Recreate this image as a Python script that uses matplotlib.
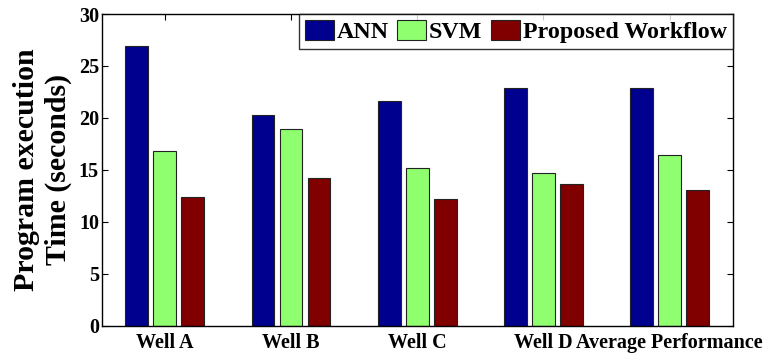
import matplotlib
matplotlib.use("Agg")
import matplotlib.pyplot as plt
import numpy as np

categories = ["Well A", "Well B", "Well C", "Well D", "Average Performance"]
series_names = ["ANN", "SVM", "Proposed Workflow"]
ann = [26.9, 20.3, 21.6, 22.9, 22.9]
svm = [16.8, 18.9, 15.2, 14.7, 16.4]
proposed = [12.4, 14.2, 12.2, 13.6, 13.1]
yticks = [0, 5, 10, 15, 20, 25, 30]

colors = ["#00008F", "#8FFF70", "#800000"]

plt.rcParams["font.family"] = ["Liberation Serif", "DejaVu Serif"]
plt.rcParams["font.weight"] = "bold"

fig = plt.figure(figsize=(7.73, 3.53), dpi=100)
ax = fig.add_axes([0.1316, 0.0773, 0.9479 - 0.1316, 0.9603 - 0.0773])

x = np.arange(1, len(categories) + 1)
width = 0.18
offsets = [-0.222, 0.0, 0.222]
for vals, name, col, off in zip([ann, svm, proposed], series_names, colors, offsets):
    ax.bar(x + off, vals, width, color=col, edgecolor="#222222", linewidth=0.8,
           label=name, zorder=2)

ax.set_xlim(0.5, 5.5)
ax.set_ylim(0, 30)
ax.set_xticks(x)
ax.set_xticklabels(categories, fontsize=14.5, fontweight="bold")
ax.set_yticks(yticks)
ax.set_yticklabels([str(t) for t in yticks], fontsize=14.5, fontweight="bold")
ax.tick_params(direction="in", length=4, width=0.8, top=True, right=True,
               pad=2, colors="black")
ax.tick_params(axis="x", pad=5)

for s in ax.spines.values():
    s.set_linewidth(1.0)
    s.set_color("black")

ax.set_ylabel("Program execution\nTime (seconds)", fontsize=21.5,
              fontweight="bold", labelpad=5, linespacing=1.2)

leg = ax.legend(loc="upper right", ncol=3, frameon=True,
                fancybox=False, edgecolor="black", borderaxespad=0.0,
                borderpad=0.25, handlelength=1.2, handleheight=0.9,
                handletextpad=0.12, columnspacing=0.35,
                prop={"weight": "bold", "size": 17.3})
leg.get_frame().set_linewidth(1.0)
leg.set_zorder(5)

fig.savefig("out.png", dpi=100)
